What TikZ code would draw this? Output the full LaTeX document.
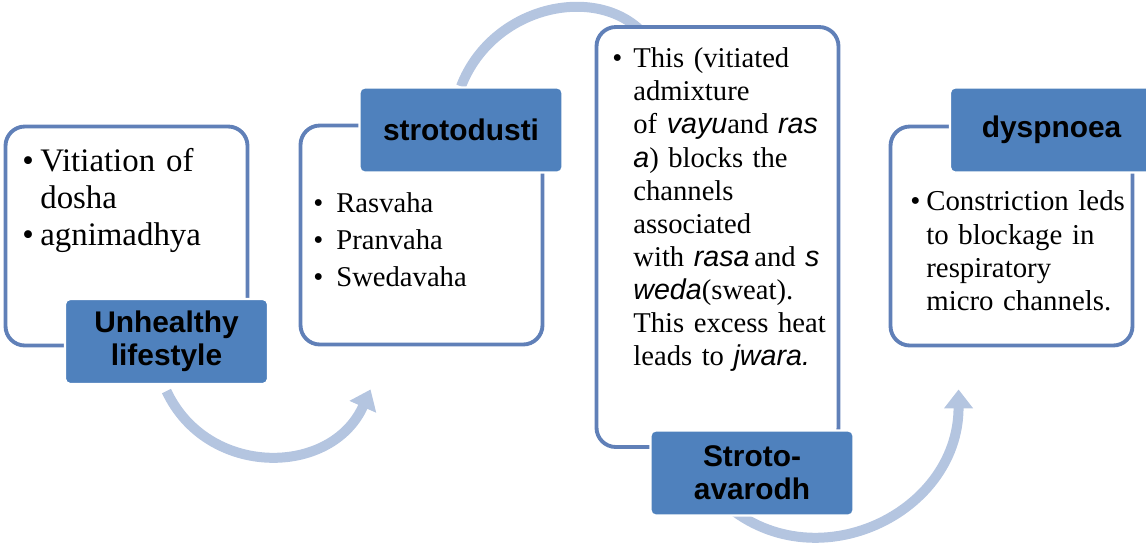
\documentclass[tikz,border=0pt]{standalone}
\usepackage{fontspec}
\setmainfont{Liberation Serif}
\newfontfamily\labelfont{Liberation Sans}
\usetikzlibrary{arrows.meta,backgrounds}

\definecolor{framecol}{RGB}{96,128,184}
\definecolor{tagcol}{RGB}{79,129,189}
\definecolor{flowcol}{RGB}{180,197,224}

\newcommand{\bul}[2]{\par\hangindent=#1\hangafter=1\noindent\makebox[#1][l]{\textbullet}#2\par}
\newcommand{\ital}[1]{{\labelfont\itshape #1}}

\tikzset{
  card/.style={draw=framecol,line width=2.2pt,fill=white,rounded corners=11pt,minimum width=4.84cm,minimum height=4.38cm},
  tag/.style={draw=white,line width=1.2pt,fill=tagcol,rounded corners=3pt,minimum width=4.06cm,minimum height=1.70cm,align=center,font=\labelfont\bfseries\fontsize{17}{19}\selectfont},
  bullets/.style={anchor=north west,inner sep=0pt,align=left,text width=#1},
  flow/.style={draw=flowcol,line width=0.2cm,-{Triangle[width=0.56cm,length=0.38cm]}}
}

\begin{document}
\begin{tikzpicture}
\useasboundingbox (0,0) rectangle (22.92,-10.84);
\node[card] (box1) at (2.53,-4.72) {};
\node[card] (box2) at (8.43,-4.70) {};
\node[card,minimum height=8.40cm] (box3) at (14.35,-4.74) {};
\node[card] (box4) at (20.23,-4.72) {};
\node[bullets=4.4cm,font=\fontsize{18.7}{21}\selectfont] (txt1) at (0.44,-2.68) {\bul{0.36cm}{Vitiation of\newline dosha}\bul{0.36cm}{agnimadhya}};
\node[bullets=4.4cm,font=\fontsize{16.3}{21}\selectfont] (txt2) at (6.26,-3.50) {\bul{0.46cm}{Rasvaha}\bul{0.46cm}{Pranvaha}\bul{0.46cm}{Swedavaha}};
\node[bullets=4.5cm,font=\fontsize{16.3}{18.8}\selectfont] (txt3) at (12.24,-0.69) {\bul{0.42cm}{This (vitiated\newline admixture\newline of \ital{vayu}and \ital{ras}\newline \ital{a}) blocks the\newline channels\newline associated\newline with \ital{rasa}\,and \ital{s}\newline \ital{weda}(sweat).\newline This excess heat\newline leads to \ital{jwara.}}};
\node[bullets=4.5cm,font=\fontsize{16.4}{19}\selectfont] (txt4) at (18.20,-3.54) {\bul{0.32cm}{Constriction leds\newline to blockage in\newline respiratory\newline micro channels.}};
\node[tag] (lab1) at (3.33,-6.83) {Unhealthy\\lifestyle};
\node[tag] (lab2) at (9.22,-2.60) {strotodusti};
\node[tag] (lab3) at (15.04,-9.46) {Stroto-\\avarodh};
\node[tag] (lab4) at (21.03,-2.60) {dyspnoea};
\begin{scope}[on background layer]
\draw[flow] ([yshift=-0.12cm]lab1.south) to[out=-65,in=-114,looseness=1.2] ([shift={(1.44,-0.86)}]box2.south west);
\draw[flow] (lab2.north) to[out=69,in=130,looseness=1.13] ([shift={(1.26,-0.5)}]box3.north west);
\draw[flow] ([shift={(-0.7,0.4)}]lab3.south) to[out=-45,in=-90,looseness=1.23] ([shift={(1.4,-0.84)}]box4.south west);
\end{scope}
\end{tikzpicture}
\end{document}
